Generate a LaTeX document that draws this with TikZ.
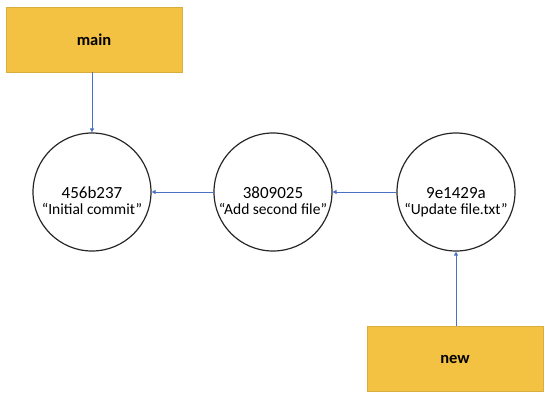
\documentclass[tikz,border=0pt]{standalone}
\usepackage{fontspec}
\setmainfont{Carlito}
\usetikzlibrary{arrows.meta}
\definecolor{boxfill}{HTML}{F4C242}
\definecolor{boxline}{HTML}{D9AE3C}
\definecolor{arrowc}{HTML}{4A72C4}
\newcommand{\subtxt}[1]{{\fontsize{15.5}{16}\selectfont #1}}
\begin{document}
\begin{tikzpicture}[x=1pt,y=-1pt,
  commit/.style={circle,draw=black!85,line width=1.2pt,minimum size=118pt,inner sep=0pt,align=center,font=\fontsize{17}{16}\selectfont},
  label/.style={inner sep=0pt,align=center},
  branch/.style={rectangle,draw=boxline,fill=boxfill,line width=0.8pt,minimum width=176pt,minimum height=65pt,font=\bfseries\fontsize{16.5}{18}\selectfont},
  link/.style={draw=arrowc,line width=0.9pt,-{Triangle[length=4pt,width=4pt]}}]
\useasboundingbox (0,0) rectangle (550,402);
\node[branch] (main) at (94,39.5) {main};
\node[branch] (new) at (455,359) {new};
\node[commit] (c1) at (92,192) {};
\node[commit] (c2) at (273,192) {};
\node[commit] (c3) at (456,192) {};
\node[label,font=\fontsize{17}{16}\selectfont,anchor=base] (t1) at (92,198) {456b237};
\node[label,anchor=base] (s1) at (92,214) {\subtxt{“Initial commit”}};
\node[label,font=\fontsize{17}{16}\selectfont,anchor=base] (t2) at (273,198) {3809025};
\node[label,anchor=base] (s2) at (273,214) {\subtxt{“Add second file”}};
\node[label,font=\fontsize{17}{16}\selectfont,anchor=base] (t3) at (456,198) {9e1429a};
\node[label,anchor=base] (s3) at (456,214) {\subtxt{“Update file.txt”}};
\draw[link] (main.south -| c1.north) -- (c1.north);
\draw[link] (c2) -- (c1);
\draw[link] (c3) -- (c2);
\draw[link] (new.north -| c3.south) -- (c3.south);
\end{tikzpicture}
\end{document}
